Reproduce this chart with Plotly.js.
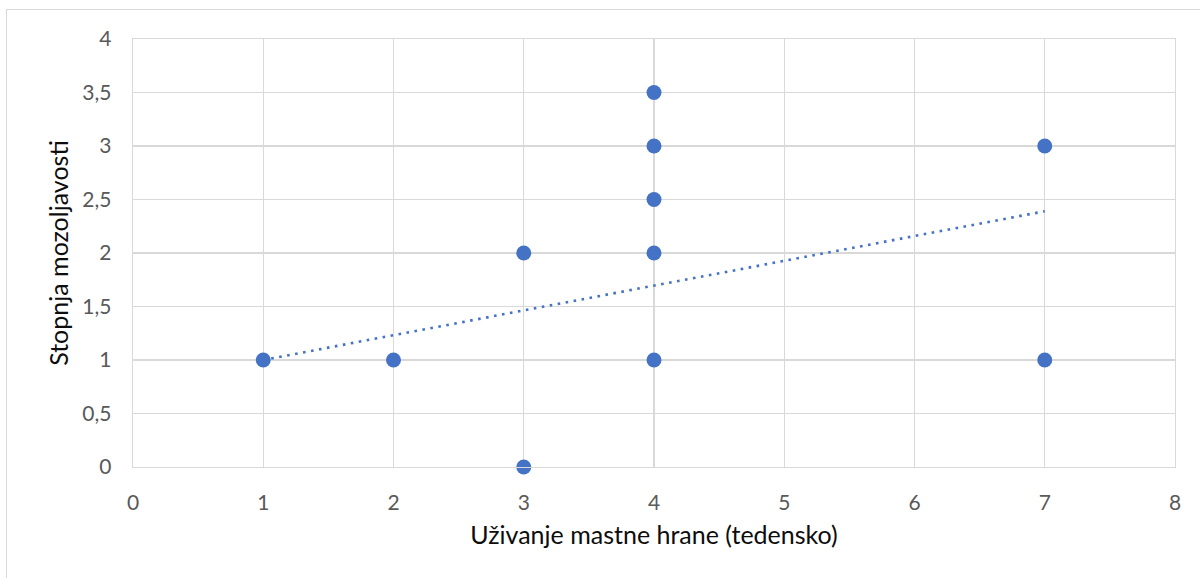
<!DOCTYPE html>
<html>
<head>
<meta charset="utf-8">
<script src="https://cdn.plot.ly/plotly-3.0.1.min.js"></script>
<style>
  html, body { margin: 0; padding: 0; background: #ffffff; overflow: hidden; }
  #frame {
    position: absolute; left: 6px; top: 9px;
    width: 1400px; height: 800px;
    border: 1.5px solid #d9d9d9; box-sizing: border-box;
  }
  #chart { position: absolute; left: 0; top: 0; width: 1200px; height: 578px; }
</style>
</head>
<body>
<div id="frame"></div>
<div id="chart"></div>
<script>
// Weekly fatty-food intake vs. acne severity
const intake   = [1, 2, 3, 3, 4, 4, 4, 4, 4, 7, 7];
const severity = [1, 1, 2, 0, 3.5, 3, 2.5, 2, 1, 3, 1];

// Linear trendline endpoints (over the observed intake range)
const trendX = [1, 7];
const trendY = [1.0, 2.39];

const xTicks = [0, 1, 2, 3, 4, 5, 6, 7, 8];
const yTicks = [0, 0.5, 1, 1.5, 2, 2.5, 3, 3.5, 4];

const blue = '#4472C4';
const grid = '#d9d9d9';
const fontFamily = 'Lato, "Open Sans", sans-serif';

const traces = [
  {
    x: trendX, y: trendY, type: 'scatter', mode: 'lines',
    line: { color: blue, width: 2.6, dash: '2.6px,5.5px' },
    hoverinfo: 'skip', showlegend: false
  },
  {
    x: intake, y: severity, type: 'scatter', mode: 'markers',
    marker: { color: blue, size: 15, line: { width: 0 } },
    cliponaxis: false,
    showlegend: false
  }
];

const layout = {
  width: 1200, height: 578,
  margin: { l: 133, r: 25, t: 39, b: 111 },
  paper_bgcolor: 'rgba(0,0,0,0)',
  plot_bgcolor: '#ffffff',
  separators: ', ',
  font: { family: fontFamily, size: 21, color: '#595959' },
  showlegend: false,
  xaxis: {
    range: [0, 8], tickvals: xTicks, ticktext: xTicks.map(String),
    showgrid: true, gridcolor: grid, gridwidth: 1.3,
    zeroline: false, showline: true, mirror: true, linecolor: grid, linewidth: 1.3,
    ticks: '', ticklabelstandoff: 16,
    tickfont: { family: fontFamily, size: 21, color: '#595959' },
    title: { text: 'Uživanje mastne hrane (tedensko)', standoff: 14,
             font: { family: fontFamily, size: 25, color: '#0d0d0d' } }
  },
  yaxis: {
    range: [0, 4], tickvals: yTicks,
    showgrid: true, gridcolor: grid, gridwidth: 1.3,
    zeroline: false, showline: true, mirror: true, linecolor: grid, linewidth: 1.3,
    ticks: '', ticklabelstandoff: 16,
    tickfont: { family: fontFamily, size: 21, color: '#595959' },
    title: { text: 'Stopnja mozoljavosti', standoff: 6,
             font: { family: fontFamily, size: 25, color: '#0d0d0d' } }
  }
};

Plotly.newPlot('chart', traces, layout, { staticPlot: true, displayModeBar: false });
</script>
</body>
</html>
